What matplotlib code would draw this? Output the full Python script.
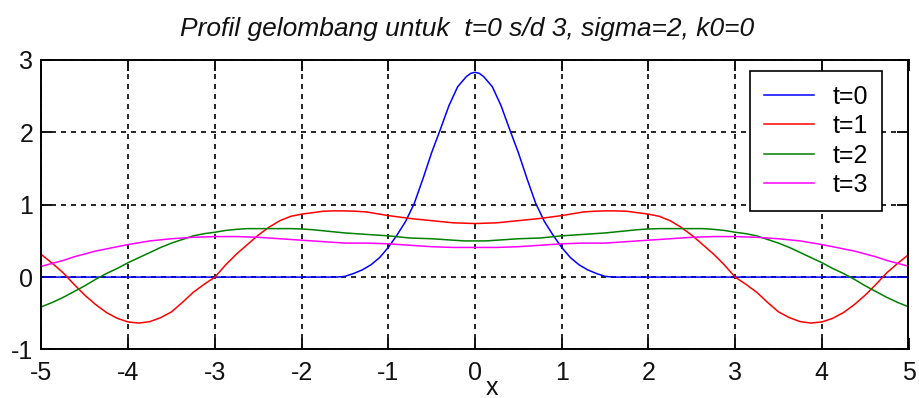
import matplotlib.pyplot as plt

plt.rcParams['font.family'] = ['Liberation Sans', 'DejaVu Sans']
plt.rcParams['axes.unicode_minus'] = False

# t=0 profile (narrow packet around x=0)
x0 = [-5.0, -1.6, -1.5, -1.4, -1.3, -1.2, -1.1, -1.0, -0.9, -0.8, -0.7, -0.6, -0.5, -0.4,
      -0.3, -0.2, -0.1, -0.05, 0.0, 0.05, 0.1, 0.2, 0.3, 0.4, 0.5, 0.6, 0.7, 0.8, 0.9, 1.0,
      1.1, 1.2, 1.3, 1.4, 1.5, 1.6, 5.0]
y0 = [0.0, 0.0, 0.01, 0.05, 0.10, 0.17, 0.27, 0.41, 0.58, 0.77, 1.02, 1.36, 1.72, 2.04,
      2.37, 2.63, 2.77, 2.815, 2.83, 2.815, 2.77, 2.63, 2.37, 2.04, 1.72, 1.36, 1.02, 0.77,
      0.58, 0.41, 0.27, 0.17, 0.10, 0.05, 0.01, 0.0, 0.0]

# t=1..3 profiles
x = [-5.0, -4.875, -4.75, -4.625, -4.5, -4.375, -4.25, -4.125, -4.0, -3.875, -3.75, -3.625,
     -3.5, -3.375, -3.25, -3.125, -3.0, -2.875, -2.75, -2.625, -2.5, -2.375, -2.25, -2.125,
     -2.0, -1.875, -1.75, -1.625, -1.5, -1.375, -1.25, -1.125, -1.0, -0.875, -0.75, -0.625,
     -0.5, -0.375, -0.25, -0.125, 0.0, 0.125, 0.25, 0.375, 0.5, 0.625, 0.75, 0.875, 1.0,
     1.125, 1.25, 1.375, 1.5, 1.625, 1.75, 1.875, 2.0, 2.125, 2.25, 2.375, 2.5, 2.625, 2.75,
     2.875, 3.0, 3.125, 3.25, 3.375, 3.5, 3.625, 3.75, 3.875, 4.0, 4.125, 4.25, 4.375, 4.5,
     4.625, 4.75, 4.875, 5.0]
y1 = [0.31, 0.19, 0.06, -0.10, -0.25, -0.38, -0.49, -0.57, -0.62, -0.635, -0.615, -0.56,
      -0.48, -0.35, -0.21, -0.10, 0.0, 0.17, 0.32, 0.45, 0.58, 0.69, 0.78, 0.84,
      0.87, 0.89, 0.91, 0.915, 0.915, 0.91, 0.90, 0.875, 0.85, 0.83, 0.81, 0.795,
      0.78, 0.765, 0.75, 0.745, 0.74, 0.745, 0.75, 0.765, 0.78, 0.795, 0.81, 0.83, 0.85,
      0.875, 0.90, 0.91, 0.915, 0.915, 0.91, 0.89, 0.87, 0.84, 0.78, 0.69, 0.58, 0.45, 0.32,
      0.17, 0.0, -0.10, -0.21, -0.35, -0.48, -0.56, -0.615, -0.635, -0.62, -0.57, -0.49,
      -0.38, -0.25, -0.10, 0.06, 0.19, 0.31]
y2 = [-0.41, -0.35, -0.28, -0.20, -0.12, -0.03, 0.05, 0.12, 0.20, 0.27, 0.34, 0.41,
      0.47, 0.52, 0.57, 0.60, 0.62, 0.645, 0.66, 0.67, 0.67, 0.67, 0.67, 0.67,
      0.665, 0.655, 0.64, 0.625, 0.61, 0.60, 0.59, 0.58, 0.57, 0.555, 0.54, 0.535,
      0.53, 0.52, 0.51, 0.50, 0.50, 0.50, 0.51, 0.52, 0.53, 0.535, 0.54, 0.555, 0.57,
      0.58, 0.59, 0.60, 0.61, 0.625, 0.64, 0.655, 0.665, 0.67, 0.67, 0.67, 0.67, 0.67, 0.66,
      0.645, 0.62, 0.60, 0.57, 0.52, 0.47, 0.41, 0.34, 0.27, 0.20, 0.12, 0.05,
      -0.03, -0.12, -0.20, -0.28, -0.35, -0.41]
y3 = [0.15, 0.19, 0.23, 0.28, 0.32, 0.36, 0.39, 0.42, 0.45, 0.475, 0.50, 0.515,
      0.53, 0.54, 0.55, 0.555, 0.56, 0.56, 0.56, 0.555, 0.55, 0.54, 0.53, 0.52,
      0.51, 0.50, 0.49, 0.48, 0.47, 0.47, 0.47, 0.465, 0.46, 0.45, 0.44, 0.43,
      0.42, 0.415, 0.41, 0.41, 0.41, 0.41, 0.41, 0.415, 0.42, 0.43, 0.44, 0.45, 0.46,
      0.465, 0.47, 0.47, 0.47, 0.48, 0.49, 0.50, 0.51, 0.52, 0.53, 0.54, 0.55, 0.555, 0.56,
      0.56, 0.56, 0.555, 0.55, 0.54, 0.53, 0.515, 0.50, 0.475, 0.45, 0.42, 0.39,
      0.36, 0.32, 0.28, 0.23, 0.19, 0.15]

labels = ['t=0', 't=1', 't=2', 't=3']
colors = ['#0000ff', '#ff0000', '#008000', '#ff00ff']

fig = plt.figure(figsize=(9.2, 3.98), dpi=100)
ax = fig.add_axes([0.0451, 0.1219, 0.9424, 0.7274])

ax.plot(x0, y0, color=colors[0], lw=1.1, label=labels[0])
ax.plot(x, y1, color=colors[1], lw=1.1, label=labels[1])
ax.plot(x, y2, color=colors[2], lw=1.1, label=labels[2])
ax.plot(x, y3, color=colors[3], lw=1.1, label=labels[3])

ax.set_xlim(-5, 5)
ax.set_ylim(-1, 3)
ax.set_xticks(range(-5, 6))
ax.set_yticks(range(-1, 4))
ax.grid(True, color='black', linestyle=(0, (3, 3)), linewidth=1.2)
ax.tick_params(direction='in', length=8, width=1.4, labelsize=18, top=True, right=True,
               colors='#111111')
ax.tick_params(axis='x', pad=8)
ax.tick_params(axis='y', pad=6)
for s in ax.spines.values():
    s.set_linewidth(1.4)

ax.set_title('Profil gelombang untuk  t=0 s/d 3, sigma=2, k0=0', fontsize=19,
             style='italic', pad=17, x=0.491, color='#111111')
ax.set_xlabel('x', fontsize=18, color='#111111')
ax.xaxis.set_label_coords(0.52, -0.09)

leg = ax.legend(loc='upper right', bbox_to_anchor=(0.9694, 0.962), borderaxespad=0,
                fontsize=18, fancybox=False, framealpha=1, edgecolor='black',
                handlelength=2.0, handletextpad=0.75, labelspacing=0.22, borderpad=0.55)
leg.get_frame().set_linewidth(1.2)

fig.savefig('out.png', dpi=100)
